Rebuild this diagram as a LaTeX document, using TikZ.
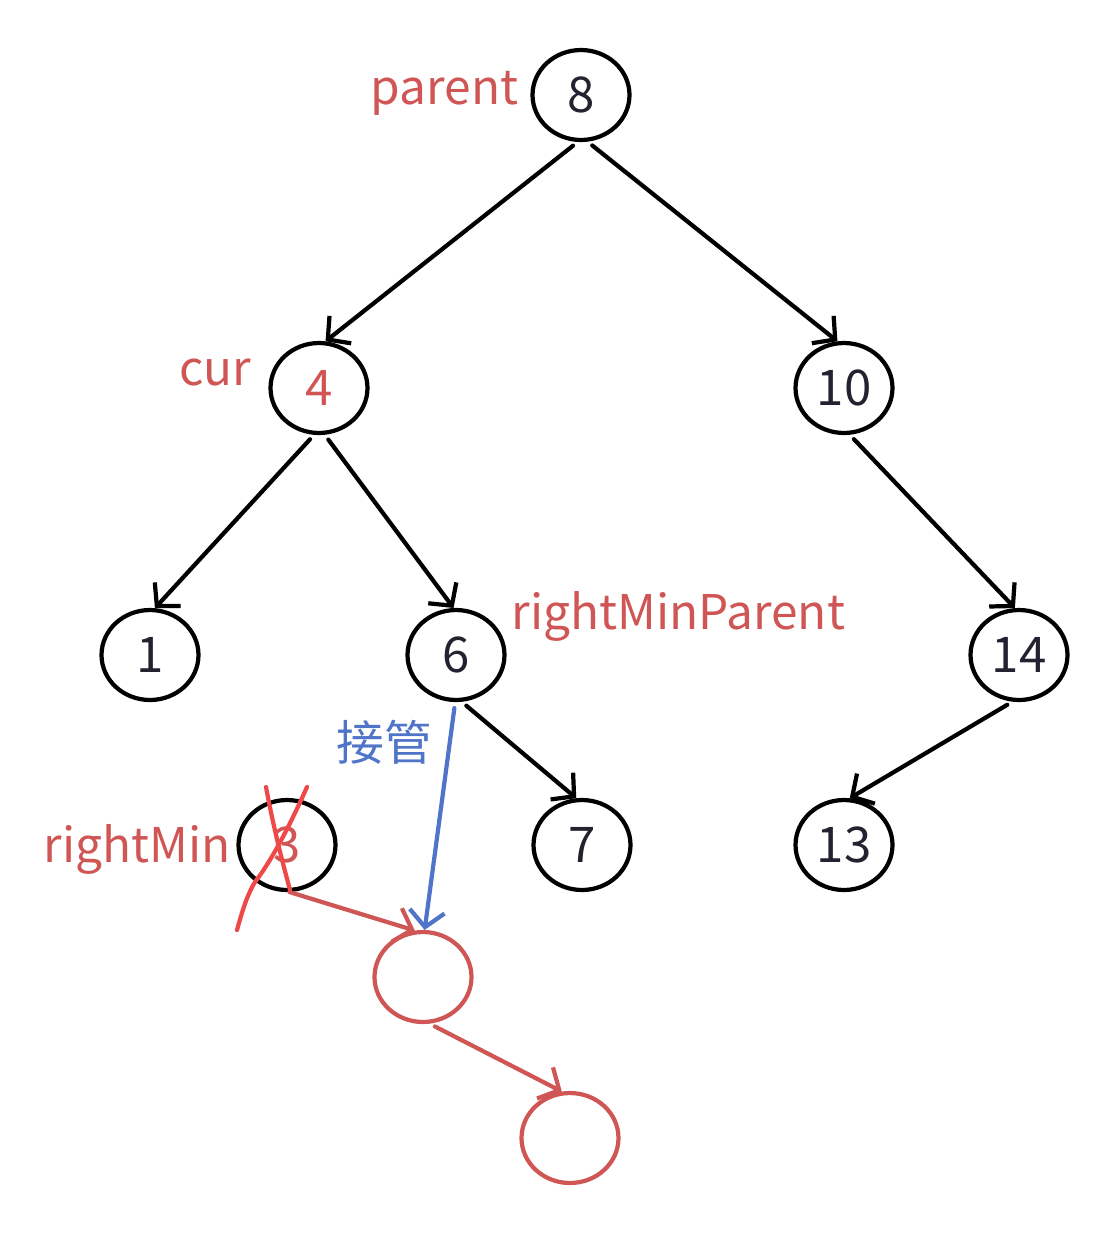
\documentclass[tikz,border=0pt]{standalone}
\usepackage{fontspec}
\setmainfont{Noto Sans CJK SC}
\usetikzlibrary{positioning,shapes.geometric,arrows.meta}
\definecolor{tagred}{RGB}{208,86,86}
\definecolor{crossred}{RGB}{238,72,72}
\definecolor{takeblue}{RGB}{80,116,200}
\definecolor{ink}{RGB}{34,34,48}
\begin{document}
\begin{tikzpicture}[x=0.02cm, y=-0.02cm, line cap=round, line join=round, line width=2.4pt,
    >={Straight Barb[length=0.32cm,width=0.7cm]}, font=\fontsize{27.2}{31}\selectfont]
  \tikzset{tree node/.style={ellipse, draw, minimum width=1.94cm, minimum height=1.8cm, inner sep=0pt, text=ink,
      font=\fontsize{28}{32}\selectfont},
    hole/.style={tree node, draw=tagred},
    tag/.style={text=tagred, inner sep=0pt},
    link/.style={->, shorten <=0.12cm}}
  \useasboundingbox (0,0) rectangle (1118,1234);
  % tree
  \node[tree node] (n8) at (581,95) {8};
  \node[tree node, text=tagred] (n4) at (319,388) {4};
  \node[tree node] (n10) at (844,388) {10};
  \node[tree node] (n1) at (150,655) {1};
  \node[tree node] (n6) at (456,655) {6};
  \node[tree node] (n14) at (1019,655) {14};
  \node[tree node, text=tagred] (n3) at (287,845) {3};
  \node[tree node] (n7) at (582,845) {7};
  \node[tree node] (n13) at (844,845) {13};
  \node[hole] (h1) at (423,977) {};
  \node[hole] (h2) at (570,1138) {};
  % labels
  \node[tag, left=0.2cm of n8, yshift=0.03cm] (tparent) {parent};
  \node[tag, left=0.3cm of n4, yshift=0.32cm] (tcur) {cur};
  \node[tag, right=0.06cm of n6, yshift=0.77cm] (trmp) {rightMinParent};
  \node[tag, left=0.08cm of n3, yshift=-0.08cm] (trm) {rightMin};
  \node[text=takeblue, inner sep=0pt, below left=0.32cm and 0.44cm of n6.south] (ttake) {接管};
  % edges
  \draw[link] (n8.-94) -- (n4.82);
  \draw[link] (n8.-82) -- (n10.98);
  \draw[link] (n4.-96) -- (n1.84);
  \draw[link] (n4.-83) -- (n6.93);
  \draw[link] (n10.-83) -- (n14.95);
  \draw[link] (n6.-83) -- (n7.97);
  \draw[link] (n14.-98) -- (n13.83);
  \draw[->, tagred] (n3.-87) -- (h1.100);
  \draw[link, tagred] (h1.-82) -- (h2.100);
  \draw[link, takeblue] (n6.-91) -- (h1.88);
  % cross out
  \draw[crossred] (266,787) .. controls (274,830) and (282,860) .. (290,890);
  \draw[crossred] (307,787) .. controls (290,825) and (272,860) .. (255,882) .. controls (247,895) and (242,912) .. (237,930);
\end{tikzpicture}
\end{document}
